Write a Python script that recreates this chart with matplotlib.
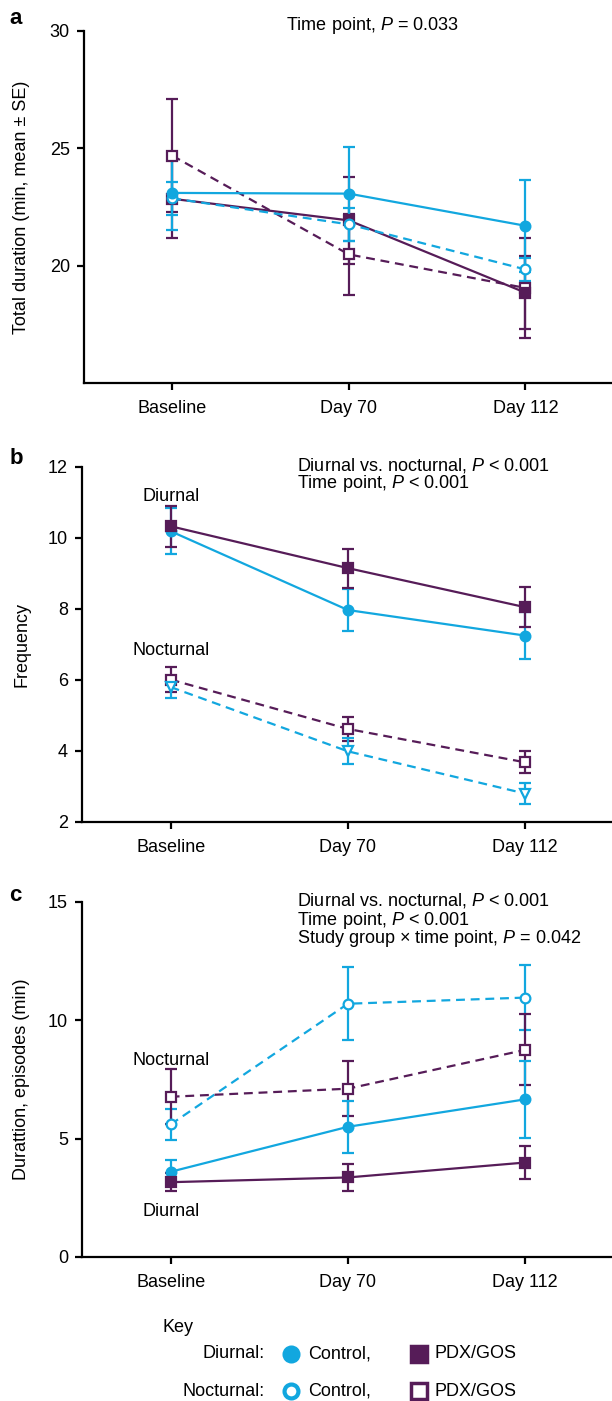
import numpy as np
import matplotlib
matplotlib.use('Agg')
import matplotlib.pyplot as plt

plt.rcParams['font.family'] = ['Liberation Sans', 'DejaVu Sans']
plt.rcParams['mathtext.fontset'] = 'custom'
plt.rcParams['mathtext.rm'] = 'Liberation Sans'
plt.rcParams['mathtext.it'] = 'Liberation Sans:italic'

CYAN = '#12a7df'
PURPLE = '#561c58'

timepoints = ['Baseline', 'Day 70', 'Day 112']

# panel a: total duration (min, mean +- SE)
a_ctrl_day = [23.1, 23.07, 21.7]
a_ctrl_day_se = [1.6, 2.0, 1.95]
a_ctrl_night = [22.87, 21.76, 19.84]
a_ctrl_night_se = [0.7, 0.7, 0.5]
a_pdx_day = [22.85, 21.93, 18.85]
a_pdx_day_se = [1.65, 1.85, 1.55]
a_pdx_night = [24.69, 20.48, 19.05]
a_pdx_night_se = [2.4, 1.73, 2.15]

# panel b: frequency
b_ctrl_day = [10.19, 7.97, 7.25]
b_ctrl_day_se = [0.64, 0.59, 0.67]
b_pdx_day = [10.33, 9.15, 8.05]
b_pdx_day_se = [0.58, 0.55, 0.57]
b_ctrl_night = [5.8, 3.99, 2.8]
b_ctrl_night_se = [0.3, 0.37, 0.29]
b_pdx_night = [6.01, 4.62, 3.68]
b_pdx_night_se = [0.36, 0.34, 0.31]

# panel c: duration of episodes (min)
c_ctrl_day = [3.6, 5.5, 6.66]
c_ctrl_day_se = [0.5, 1.1, 1.62]
c_pdx_day = [3.16, 3.36, 3.99]
c_pdx_day_se = [0.37, 0.58, 0.71]
c_ctrl_night = [5.6, 10.7, 10.96]
c_ctrl_night_se = [0.67, 1.55, 1.37]
c_pdx_night = [6.77, 7.11, 8.75]
c_pdx_night_se = [1.17, 1.16, 1.5]

FS = 13
x = np.arange(len(timepoints))

fig = plt.figure(figsize=(6.12, 14.01), dpi=100)


def series(ax, y, err, color, marker, filled, dashed, z=3):
    ax.errorbar(x, y, yerr=err, color=color, lw=1.6, elinewidth=1.6,
                capsize=4.5, capthick=1.6,
                ls=(0, (4, 2.6)) if dashed else '-',
                marker=marker, ms=7 if marker != 'v' else 7.5,
                mfc=color if filled else 'white', mec=color, mew=1.6,
                zorder=z, clip_on=False)


def style(ax, ylim, yticks, ylabel):
    ax.set_xlim(-0.5, 2.49)
    ax.set_ylim(*ylim)
    ax.set_yticks(yticks)
    ax.set_xticks(x)
    ax.set_xticklabels(timepoints)
    for s in ['top', 'right']:
        ax.spines[s].set_visible(False)
    for s in ['left', 'bottom']:
        ax.spines[s].set_linewidth(1.6)
    ax.tick_params(direction='out', length=5, width=1.6, labelsize=FS, pad=5)
    ax.tick_params(axis='x', pad=7)
    ax.set_ylabel(ylabel, fontsize=FS)


# ---- a
ax = fig.add_axes([0.137, 0.7266, 0.863, 0.2513])
series(ax, a_pdx_night, a_pdx_night_se, PURPLE, 's', False, True)
series(ax, a_pdx_day, a_pdx_day_se, PURPLE, 's', True, False)
series(ax, a_ctrl_night, a_ctrl_night_se, CYAN, 'o', False, True)
series(ax, a_ctrl_day, a_ctrl_day_se, CYAN, 'o', True, False)
style(ax, (15, 30), [20, 25, 30], 'Total duration (min, mean \u00b1 SE)')
ax.yaxis.set_label_coords(-0.102, 0.5)
fig.text(0.467, 0.982, r'Time point, $P$ = 0.033', fontsize=FS, va='center')
fig.text(0.015, 0.987, 'a', fontsize=16, fontweight='bold', va='center')

# ---- b
ax = fig.add_axes([0.134, 0.4133, 0.866, 0.2534])
series(ax, b_pdx_night, b_pdx_night_se, PURPLE, 's', False, True)
series(ax, b_ctrl_night, b_ctrl_night_se, CYAN, 'v', False, True)
series(ax, b_ctrl_day, b_ctrl_day_se, CYAN, 'o', True, False)
series(ax, b_pdx_day, b_pdx_day_se, PURPLE, 's', True, False)
style(ax, (2, 12), [2, 4, 6, 8, 10, 12], 'Frequency')
ax.yaxis.set_label_coords(-0.098, 0.5)
ax.text(0, 11.18, 'Diurnal', fontsize=FS, ha='center', va='center')
ax.text(0, 6.82, 'Nocturnal', fontsize=FS, ha='center', va='center')
fig.text(0.485, 0.668, r'Diurnal vs. nocturnal, $P$ < 0.001', fontsize=FS, va='center')
fig.text(0.485, 0.655, r'Time point, $P$ < 0.001', fontsize=FS, va='center')
fig.text(0.015, 0.673, 'b', fontsize=16, fontweight='bold', va='center')

# ---- c
ax = fig.add_axes([0.134, 0.1028, 0.866, 0.2534])
series(ax, c_ctrl_night, c_ctrl_night_se, CYAN, 'o', False, True)
series(ax, c_pdx_night, c_pdx_night_se, PURPLE, 's', False, True)
series(ax, c_ctrl_day, c_ctrl_day_se, CYAN, 'o', True, False)
series(ax, c_pdx_day, c_pdx_day_se, PURPLE, 's', True, False)
style(ax, (0, 15), [0, 5, 10, 15], 'Durattion, episodes (min)')
ax.yaxis.set_label_coords(-0.098, 0.5)
ax.text(0, 8.31, 'Nocturnal', fontsize=FS, ha='center', va='center')
ax.text(0, 1.92, 'Diurnal', fontsize=FS, ha='center', va='center')
fig.text(0.485, 0.3569, r'Diurnal vs. nocturnal, $P$ < 0.001', fontsize=FS, va='center')
fig.text(0.485, 0.3433, r'Time point, $P$ < 0.001', fontsize=FS, va='center')
fig.text(0.485, 0.3298, r'Study group $\times$ time point, $P$ = 0.042', fontsize=FS, va='center')
fig.text(0.015, 0.361, 'c', fontsize=16, fontweight='bold', va='center')

# ---- key (pixel coordinates overlay)
key = fig.add_axes([0, 0, 1, 1], facecolor='none')
key.set_xlim(0, 612)
key.set_ylim(1401, 0)
key.axis('off')
key.text(162, 1327, 'Key', fontsize=FS, va='center')
rows = [('Diurnal:', True, 1354), ('Nocturnal:', False, 1391)]
for label, filled, yy in rows:
    key.text(265, yy, label, fontsize=FS, ha='right', va='center')
    key.plot([291], [yy], marker='o', ms=10, mfc=CYAN if filled else 'white',
             mec=CYAN, mew=3, ls='none')
    key.text(308, yy, 'Control,', fontsize=FS, va='center')
    key.plot([419], [yy], marker='s', ms=11, mfc=PURPLE if filled else 'white',
             mec=PURPLE, mew=2.5, ls='none')
    key.text(435, yy, 'PDX/GOS', fontsize=FS, va='center')

fig.savefig('out.png', dpi=100)
